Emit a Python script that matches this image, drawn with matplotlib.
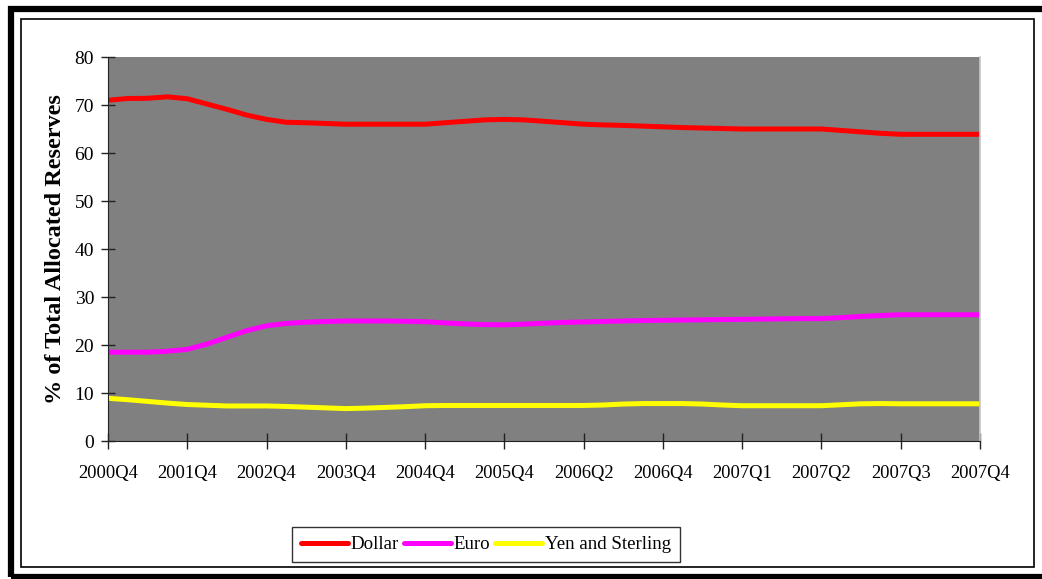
import matplotlib
matplotlib.use("Agg")
import matplotlib.pyplot as plt
from matplotlib.patches import Rectangle

# Tick labels (one per labelled tick; four quarterly readings per interval)
tick_labels = ["2000Q4", "2001Q4", "2002Q4", "2003Q4", "2004Q4", "2005Q4",
               "2006Q2", "2006Q4", "2007Q1", "2007Q2", "2007Q3", "2007Q4"]
steps_per_tick = 4

dollar = [71.0, 71.35, 71.4, 71.7, 71.3, 70.2, 69.1, 67.9, 67.0, 66.4, 66.3, 66.15,
          66.0, 66.0, 66.0, 66.0, 66.0, 66.3, 66.6, 66.9, 67.0, 66.9, 66.6, 66.3,
          66.0, 65.85, 65.75, 65.6, 65.45, 65.3, 65.2, 65.1, 65.0, 65.0, 65.0, 65.0,
          65.0, 64.7, 64.4, 64.1, 63.9, 63.9, 63.9, 63.9, 63.9]
euro = [18.5, 18.5, 18.5, 18.7, 19.1, 20.2, 21.6, 23.0, 24.0, 24.5, 24.75, 24.9,
        25.0, 25.0, 25.0, 24.95, 24.85, 24.6, 24.4, 24.25, 24.2, 24.35, 24.55, 24.7,
        24.8, 24.9, 25.0, 25.1, 25.15, 25.2, 25.25, 25.3, 25.35, 25.4, 25.45, 25.5,
        25.5, 25.7, 25.95, 26.15, 26.3, 26.3, 26.3, 26.3, 26.3]
yen_sterling = [8.9, 8.6, 8.25, 7.9, 7.6, 7.45, 7.3, 7.3, 7.3, 7.2, 7.05, 6.9,
                6.75, 6.85, 7.0, 7.15, 7.35, 7.4, 7.4, 7.4, 7.4, 7.4, 7.4, 7.4,
                7.4, 7.5, 7.7, 7.8, 7.8, 7.8, 7.7, 7.5, 7.35, 7.35, 7.35, 7.35,
                7.35, 7.55, 7.75, 7.8, 7.75, 7.75, 7.75, 7.75, 7.75]

series_names = ["Dollar", "Euro", "Yen and Sterling"]
series_colors = ["#ff0000", "#ff00ff", "#ffff00"]

plt.rcParams["font.family"] = ["Liberation Serif", "DejaVu Serif"]

W, H = 1042, 579
fig = plt.figure(figsize=(W / 100, H / 100), dpi=100)

# Outer thick frame and inner thin frame
fig.patches.append(Rectangle((10.5 / W, (H - 577) / H), (1060 - 10.5) / W, (577 - 9) / H,
                             transform=fig.transFigure, fill=False,
                             edgecolor="black", linewidth=4.5, zorder=0))
fig.patches.append(Rectangle((21 / W, (H - 567) / H), (1034 - 21) / W, (567 - 19) / H,
                             transform=fig.transFigure, fill=False,
                             edgecolor="black", linewidth=1.2, zorder=0))

ax = fig.add_axes([108 / W, 1 - 441 / H, (980 - 108) / W, (441 - 57) / H])
ax.set_facecolor("#808080")

x = list(range(len(dollar)))
for vals, name, col in zip([dollar, euro, yen_sterling], series_names, series_colors):
    ax.plot(x, vals, color=col, linewidth=3.6, label=name,
            solid_capstyle="round", solid_joinstyle="round")

ax.set_xlim(0, len(dollar) - 1)
ax.set_ylim(0, 80)
ax.set_xticks([i * steps_per_tick for i in range(len(tick_labels))])
ax.set_xticklabels(tick_labels, fontsize=13.3)
ax.set_yticks(range(0, 81, 10))
ax.tick_params(axis="y", direction="inout", length=10, width=1, labelsize=14,
               pad=5, color="#222222")
ax.tick_params(axis="x", direction="inout", length=12, width=1, pad=11,
               color="#222222")

ax.spines["top"].set_visible(False)
ax.spines["right"].set_color("#c8c8c8")
ax.spines["right"].set_linewidth(1.2)
ax.spines["left"].set_color("#222222")
ax.spines["bottom"].set_color("#222222")

ax.set_ylabel("% of Total Allocated Reserves", fontsize=17.5, fontweight="bold",
              labelpad=6)

leg = fig.legend(loc="center", bbox_to_anchor=(486 / W, 1 - 544.5 / H), ncol=3,
                 fontsize=13.6, frameon=True, fancybox=False, handlelength=2.5,
                 handletextpad=0.15, columnspacing=0.25, borderpad=0.45)
leg.get_frame().set_edgecolor("black")
leg.get_frame().set_linewidth(1.0)

fig.savefig("out.png", dpi=100)
